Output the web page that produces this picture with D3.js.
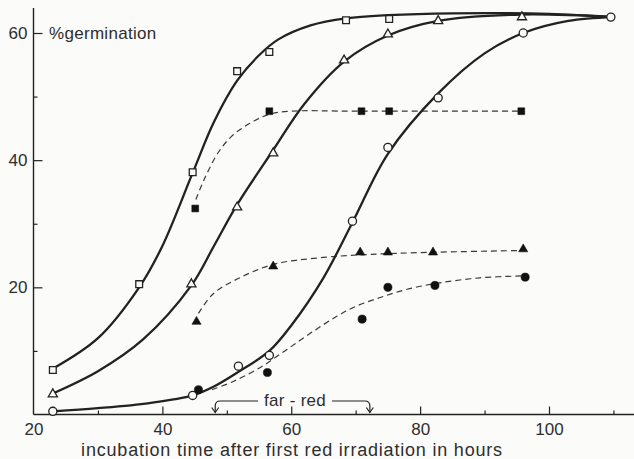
<!DOCTYPE html>
<html>
<head>
<meta charset="utf-8">
<script src="https://cdn.jsdelivr.net/npm/d3@7"></script>
<style>
  html, body { margin: 0; padding: 0; background: #fbfbf9; }
  svg { display: block; }
  text { font-family: "Liberation Sans", Arial, Helvetica, sans-serif; fill: #2e2e2e; }
</style>
</head>
<body>
<svg id="chart" width="634" height="459"></svg>
<script>
// Germination (%) versus incubation time (h) after the first red irradiation.
// Open symbols: red only; filled symbols: red followed by far-red.

// Measured points [hours, % germination]
const openSquares   = [[23, 7.0], [36.4, 20.5], [44.7, 38.1], [51.6, 54.0], [56.6, 57.0], [68.5, 62.0], [75.2, 62.2]];
const openTriangles = [[23, 3.2], [44.5, 20.5], [51.6, 32.6], [57.2, 41.1], [68.2, 55.7], [75.0, 59.8], [82.8, 61.9], [95.8, 62.5]];
const openCircles   = [[23, 0.5], [44.7, 3.0], [51.8, 7.6], [56.6, 9.3], [69.5, 30.4], [75.0, 42.0], [82.8, 49.8], [96.0, 60.0], [109.6, 62.5]];
const filledSquares   = [[45.1, 32.4], [56.6, 47.7], [70.9, 47.7], [75.2, 47.7], [95.7, 47.7]];
const filledTriangles = [[45.3, 14.6], [57.2, 23.3], [70.7, 25.5], [75.0, 25.5], [82.0, 25.5], [96.0, 26.0]];
const filledCircles   = [[45.6, 3.9], [56.3, 6.6], [71.0, 15.0], [75.0, 20.0], [82.3, 20.3], [96.3, 21.6]];

// Hand-fitted response curves [hours, % germination]
const squareFit   = [[23, 7.2], [30, 12], [36.4, 20], [40, 26.5], [44.7, 38], [48, 46], [51.6, 52.5], [55, 56.5], [58, 59], [63, 61.2], [68.5, 62.3], [75, 62.8], [85, 63.1], [100, 63], [110, 62.5]];
const triangleFit = [[23, 3.3], [30, 6.8], [37, 11.8], [44.5, 20.3], [48, 26.5], [51.6, 33], [57.2, 41.6], [62, 48.8], [68.2, 55.5], [75, 59.6], [82.8, 61.9], [95.8, 62.9], [110, 62.5]];
const circleFit   = [[23, 0.5], [30, 1.0], [38, 1.8], [44.7, 3.0], [48, 4.4], [51.8, 6.7], [56.6, 10.0], [60, 14], [65, 21.5], [69.5, 30.2], [75, 41], [82.8, 50.5], [90, 56.8], [96, 60], [103, 61.9], [110, 62.5]];
const filledSquareFit   = [[45.2, 33.8], [46.5, 37], [48.8, 41.4], [51, 44], [53.6, 45.8], [56.5, 47.2], [60, 47.7], [70, 47.7], [96, 47.7]];
const filledTriangleFit = [[45.6, 15.9], [47.9, 19.0], [51.6, 21.3], [57.2, 23.6], [65, 24.7], [75, 25.3], [96, 25.8]];
const filledCircleFit   = [[47.7, 3.9], [51, 5.2], [55.2, 7.4], [59, 10], [63, 12.8], [67, 15.4], [70, 17], [73.8, 18.4], [78, 19.7], [83, 20.7], [89.3, 21.5], [96, 21.8]];

// Axis ticks
const xMajorTicks = [20, 40, 60, 80, 100];
const xMinorTicks = [30, 50, 70, 90, 110];
const yMajorTicks = [20, 40, 60];
const yMinorTicks = [10, 30, 50];

// Far-red exposure window (hours)
const farRedSpan = [48.2, 72.2];

const svg = d3.select("#chart");
const W = 634, H = 459;

const x = d3.scaleLinear().domain([20, 100]).range([33.5, 549]);
const y = d3.scaleLinear().domain([0, 60]).range([414.5, 33]);

const ink = "#222";
const font = '"Liberation Sans", Arial, Helvetica, sans-serif';

// Axis lines
svg.append("line").attr("x1", x(20)).attr("x2", W).attr("y1", y(0)).attr("y2", y(0))
  .attr("stroke", ink).attr("stroke-width", 1.4);
svg.append("line").attr("x1", x(20)).attr("x2", x(20)).attr("y1", y(0)).attr("y2", 8)
  .attr("stroke", ink).attr("stroke-width", 1.4);

// X axis: major ticks with labels, minor ticks, both pointing into the plot
const gx = svg.append("g").attr("transform", `translate(0,${y(0)})`)
  .call(d3.axisBottom(x).tickValues(xMajorTicks).tickSize(-8).tickPadding(8).tickFormat(d3.format("d")));
const gxm = svg.append("g").attr("transform", `translate(0,${y(0)})`)
  .call(d3.axisBottom(x).tickValues(xMinorTicks).tickSize(-4).tickFormat(""));

// Y axis
const gy = svg.append("g").attr("transform", `translate(${x(20)},0)`)
  .call(d3.axisLeft(y).tickValues(yMajorTicks).tickSize(-9).tickPadding(6).tickFormat(d3.format("d")));
const gym = svg.append("g").attr("transform", `translate(${x(20)},0)`)
  .call(d3.axisLeft(y).tickValues(yMinorTicks).tickSize(-4).tickFormat(""));

[gx, gxm, gy, gym].forEach(g => {
  g.select(".domain").remove();
  g.selectAll(".tick line").attr("stroke", ink).attr("stroke-width", 1.2);
  g.selectAll(".tick text").style("font-size", "17px").attr("fill", "#2e2e2e")
    .style("font-family", font);
});
gx.selectAll(".tick line").filter(d => d === 20).remove();

// Axis titles
svg.append("text").attr("x", 49).attr("y", 39).style("font-size", "17px")
  .style("letter-spacing", "0.3px").text("%germination");
svg.append("text").attr("x", 292).attr("y", 456).attr("text-anchor", "middle")
  .style("font-size", "18px").style("letter-spacing", "0.8px")
  .text("incubation time after first red irradiation in hours");

// Curves
const line = d3.line().x(d => x(d[0])).y(d => y(d[1])).curve(d3.curveCatmullRom.alpha(0.5));

[filledSquareFit, filledTriangleFit, filledCircleFit].forEach(c => {
  svg.append("path").attr("d", line(c)).attr("fill", "none")
    .attr("stroke", "#3a3a3a").attr("stroke-width", 1.2).attr("stroke-dasharray", "6,4");
});
[squareFit, triangleFit, circleFit].forEach(c => {
  svg.append("path").attr("d", line(c)).attr("fill", "none")
    .attr("stroke", ink).attr("stroke-width", 2.3).attr("stroke-linejoin", "round");
});

// Markers
function markers(data, type, size, filled) {
  svg.append("g").selectAll("path").data(data).join("path")
    .attr("transform", d => `translate(${x(d[0])},${y(d[1])})`)
    .attr("d", d3.symbol().type(type).size(size))
    .attr("fill", filled ? "#111" : "#fbfbf9")
    .attr("stroke", filled ? "#111" : ink)
    .attr("stroke-width", filled ? 0.6 : 1.3);
}
markers(openSquares, d3.symbolSquare, 46, false);
markers(openTriangles, d3.symbolTriangle, 36, false);
markers(openCircles, d3.symbolCircle, 52, false);
markers(filledSquares, d3.symbolSquare, 46, true);
markers(filledTriangles, d3.symbolTriangle, 36, true);
markers(filledCircles, d3.symbolCircle, 52, true);

// Far-red bracket
const by = 401, ay = y(0) - 2;
const xl = x(farRedSpan[0]), xr = x(farRedSpan[1]);
const labelX = 295;
svg.append("text").attr("x", labelX).attr("y", 406).attr("text-anchor", "middle")
  .style("font-size", "17px").style("letter-spacing", "0.3px").text("far - red");
const bracket = svg.append("g").attr("fill", "none").attr("stroke", ink).attr("stroke-width", 1.2);
bracket.append("path").attr("d", `M${labelX - 37},${by} H${xl + 5} Q${xl},${by} ${xl},${by + 5} V${ay}`);
bracket.append("path").attr("d", `M${labelX + 37},${by} H${xr - 5} Q${xr},${by} ${xr},${by + 5} V${ay}`);
[xl, xr].forEach(xa => {
  bracket.append("path").attr("d", `M${xa - 3.5},${ay - 5} L${xa},${ay} L${xa + 3.5},${ay - 5}`);
});
</script>
</body>
</html>
